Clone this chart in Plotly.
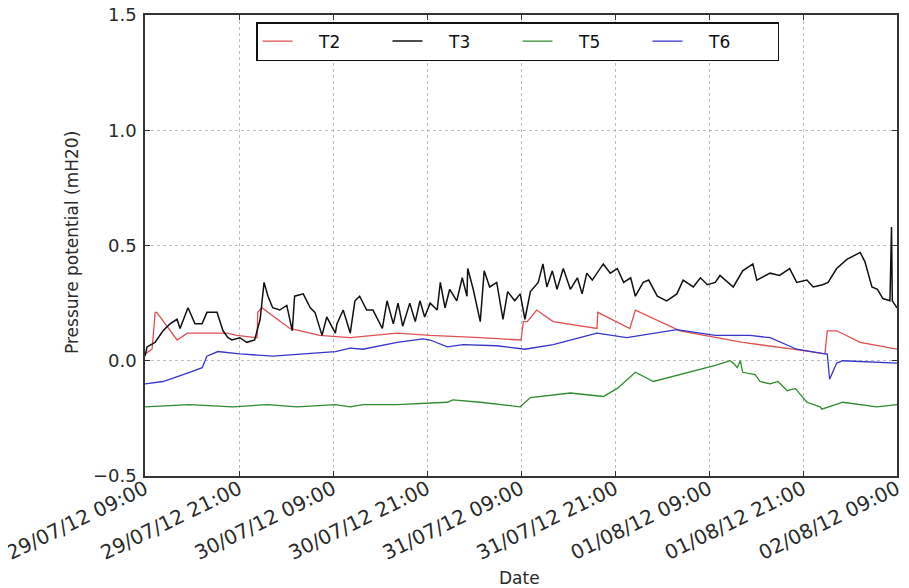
import pandas as pd
import plotly.graph_objects as go

START = "2012-07-29 09:00"

# hours after start, values (mH20)
t2_hours = [0, 0.9, 1.3, 1.5, 4.1, 5.4, 10.5, 11.7, 14.3, 14.4, 14.9, 18.5, 22.3, 26.2, 32.2, 36.4,
            42.8, 47.5, 48.0, 48.3, 48.8, 50.0, 52.1, 57.7, 57.8, 61.9, 62.6, 68.3, 72.8, 76.3,
            82.7, 86.8, 87.1, 88.3, 91.3, 94.2, 96.0]
t2_values = [0.03, 0.05, 0.21, 0.21, 0.09, 0.12, 0.12, 0.11, 0.10, 0.21, 0.23, 0.14, 0.11, 0.10, 0.12, 0.11,
             0.10, 0.09, 0.09, 0.17, 0.17, 0.22, 0.17, 0.14, 0.21, 0.14, 0.22, 0.13, 0.10, 0.08,
             0.05, 0.03, 0.13, 0.13, 0.08, 0.06, 0.05]

t3_hours = [0, 0.26, 1.28, 2.30, 3.19, 4.09, 4.47, 5.49, 6.38, 7.28, 7.91, 9.19, 9.96, 10.6, 11.1, 12.1,
            13.0, 14.0, 14.7, 15.2, 15.7, 16.3, 17.2, 18.1, 18.8, 19.1, 20.2, 21.1, 21.7, 22.6, 23.2,
            24.3, 24.5, 25.3, 26.2, 26.8, 27.4, 28.3, 29.1, 30.3, 30.9, 31.7, 32.3, 32.9, 33.8, 34.5,
            35.1, 35.7, 36.4, 37.3, 37.7, 38.3, 38.9, 39.8, 40.5, 41.1, 41.2, 41.9, 42.8, 43.3, 44.0,
            44.9, 45.7, 46.3, 47.2, 47.9, 48.5, 49.2, 50.2, 50.8, 51.3, 52.0, 52.6, 53.4, 54.3, 55.2,
            55.8, 56.4, 57.1, 58.5, 59.4, 60.3, 61.1, 62.0, 62.6, 63.6, 64.3, 65.4, 66.6, 67.9, 68.7,
            70.0, 70.9, 71.8, 72.8, 73.4, 75.1, 76.3, 77.6, 78.1, 79.8, 81.0, 82.3, 83.2, 84.5, 85.3,
            86.5, 87.2, 88.3, 89.6, 91.3, 91.9, 92.8, 93.5, 94.2, 95.1, 95.3, 95.4, 96.0]
t3_values = [0.02, 0.06, 0.08, 0.13, 0.16, 0.18, 0.14, 0.23, 0.16, 0.16, 0.21, 0.21, 0.13, 0.10, 0.09, 0.10,
             0.08, 0.09, 0.18, 0.34, 0.28, 0.23, 0.22, 0.24, 0.13, 0.28, 0.29, 0.23, 0.21, 0.11, 0.19,
             0.12, 0.16, 0.22, 0.12, 0.26, 0.28, 0.22, 0.22, 0.14, 0.26, 0.16, 0.25, 0.15, 0.25, 0.17,
             0.26, 0.19, 0.25, 0.22, 0.34, 0.23, 0.31, 0.26, 0.36, 0.28, 0.40, 0.31, 0.17, 0.39, 0.32,
             0.34, 0.18, 0.30, 0.26, 0.29, 0.18, 0.30, 0.34, 0.42, 0.32, 0.39, 0.31, 0.40, 0.31, 0.36,
             0.29, 0.38, 0.35, 0.42, 0.38, 0.40, 0.34, 0.36, 0.28, 0.34, 0.35, 0.28, 0.26, 0.29, 0.35,
             0.32, 0.36, 0.33, 0.34, 0.37, 0.32, 0.39, 0.42, 0.35, 0.38, 0.37, 0.40, 0.34, 0.35, 0.32,
             0.33, 0.34, 0.40, 0.44, 0.47, 0.43, 0.32, 0.31, 0.27, 0.26, 0.58, 0.26, 0.23]

t5_hours = [0, 5.7, 11.2, 15.6, 19.4, 24.3, 26.2, 27.8, 32.2, 38.6, 39.3, 42.8, 47.9, 49.2, 54.3, 58.5,
            60.3, 62.6, 64.9, 68.3, 72.8, 74.7, 75.1, 75.6, 76.0, 76.3, 77.9, 78.5, 79.8, 80.8, 82.0,
            83.0, 84.5, 86.2, 86.4, 89.1, 93.4, 96.0]
t5_values = [-0.20, -0.19, -0.20, -0.19, -0.20, -0.19, -0.20, -0.19, -0.19, -0.18, -0.17, -0.18, -0.20,
             -0.16, -0.14, -0.155, -0.12, -0.05, -0.09, -0.06, -0.02, 0.00, -0.01, -0.03, 0.00, -0.05,
             -0.06, -0.09, -0.10, -0.09, -0.13, -0.12, -0.18, -0.20, -0.21, -0.18, -0.20, -0.19]

t6_hours = [0, 2.3, 5.7, 7.3, 7.9, 9.3, 12.1, 16.3, 24.3, 26.2, 27.8, 32.2, 35.5, 36.4, 38.6, 40.6,
            44.9, 48.5, 52.1, 57.7, 61.5, 67.9, 72.8, 77.2, 79.8, 83.2, 86.8, 87.1, 87.4, 88.3, 89.1, 96.0]
t6_values = [-0.10, -0.09, -0.05, -0.03, 0.02, 0.04, 0.03, 0.02, 0.04, 0.055, 0.05, 0.08, 0.095, 0.09,
             0.06, 0.07, 0.065, 0.05, 0.07, 0.12, 0.10, 0.135, 0.11, 0.11, 0.10, 0.05, 0.03, 0.03,
             -0.08, -0.01, 0.00, -0.01]

tick_hours = [0, 12, 24, 36, 48, 60, 72, 84, 96]
y_ticks = [-0.5, 0.0, 0.5, 1.0, 1.5]
y_tick_labels = ["\u22120.5", "0.0", "0.5", "1.0", "1.5"]

start = pd.Timestamp(START)


def to_dates(hours):
    return start + pd.to_timedelta(hours, unit="h")


series = [
    ("T2", t2_hours, t2_values, "#e05050", 1.3),
    ("T3", t3_hours, t3_values, "#111111", 1.5),
    ("T5", t5_hours, t5_values, "#2e8b2e", 1.3),
    ("T6", t6_hours, t6_values, "#3535cc", 1.3),
]

pad = "\u00a0" * 4
fig = go.Figure()
for name, hrs, vals, col, lw in series:
    fig.add_trace(go.Scatter(x=to_dates(hrs), y=vals, mode="lines", name=pad + name,
                             line=dict(color=col, width=lw)))

tick_dates = to_dates(tick_hours)
tick_text = [d.strftime("%d/%m/%y %H:%M") for d in tick_dates]

font_family = "DejaVu Sans"
axis_color = "#333333"
text_color = "#2a2a2a"

# the page body adds an 8px offset; the figure is sized to fit the window
fig.update_layout(
    width=901, height=580,
    margin=dict(l=137, r=12, t=7, b=112),
    paper_bgcolor="white", plot_bgcolor="white",
    font=dict(family=font_family, color=text_color, size=17),
    showlegend=True,
    legend=dict(orientation="h", x=(256 - 145) / 752, xanchor="left", y=(476 - 22) / 461,
                yanchor="top",
                bgcolor="white", bordercolor="#111111", borderwidth=1.5,
                font=dict(size=17, color="#111111"),
                entrywidth=85, entrywidthmode="pixels"),
)
fig.update_xaxes(
    range=[tick_dates[0], tick_dates[-1]],
    tickmode="array", tickvals=tick_dates, ticktext=tick_text,
    tickangle=-26, tickfont=dict(size=20), automargin=False, ticklabelstandoff=-8,
    ticklabeloverflow="allow",
    ticks="inside", ticklen=5, tickcolor=axis_color,
    showline=True, linecolor=axis_color, linewidth=1.5, mirror="ticks",
    showgrid=True, gridcolor="#bdbdbd", griddash="dot", gridwidth=1,
    zeroline=False,
)
fig.update_yaxes(
    range=[-0.5, 1.5],
    tickmode="array", tickvals=y_ticks, ticktext=y_tick_labels,
    tickfont=dict(size=18), automargin=False, ticklabelstandoff=3,
    ticklabeloverflow="allow",
    ticks="inside", ticklen=5, tickcolor=axis_color,
    showline=True, linecolor=axis_color, linewidth=1.5, mirror="ticks",
    showgrid=True, gridcolor="#bdbdbd", griddash="dot", gridwidth=1,
    zeroline=False,
)
fig.add_annotation(text="Pressure potential (mH20)", xref="paper", yref="paper",
                   x=(72 - 145) / 752, y=(476 - 243) / 461, xanchor="center", yanchor="middle",
                   textangle=-90, showarrow=False, font=dict(size=17, color=text_color))
fig.add_annotation(text="Date", xref="paper", yref="paper",
                   x=(519 - 145) / 752, y=0, yshift=-102, xanchor="center", yanchor="middle",
                   showarrow=False, font=dict(size=17, color=text_color))

fig.write_html("out.html")
